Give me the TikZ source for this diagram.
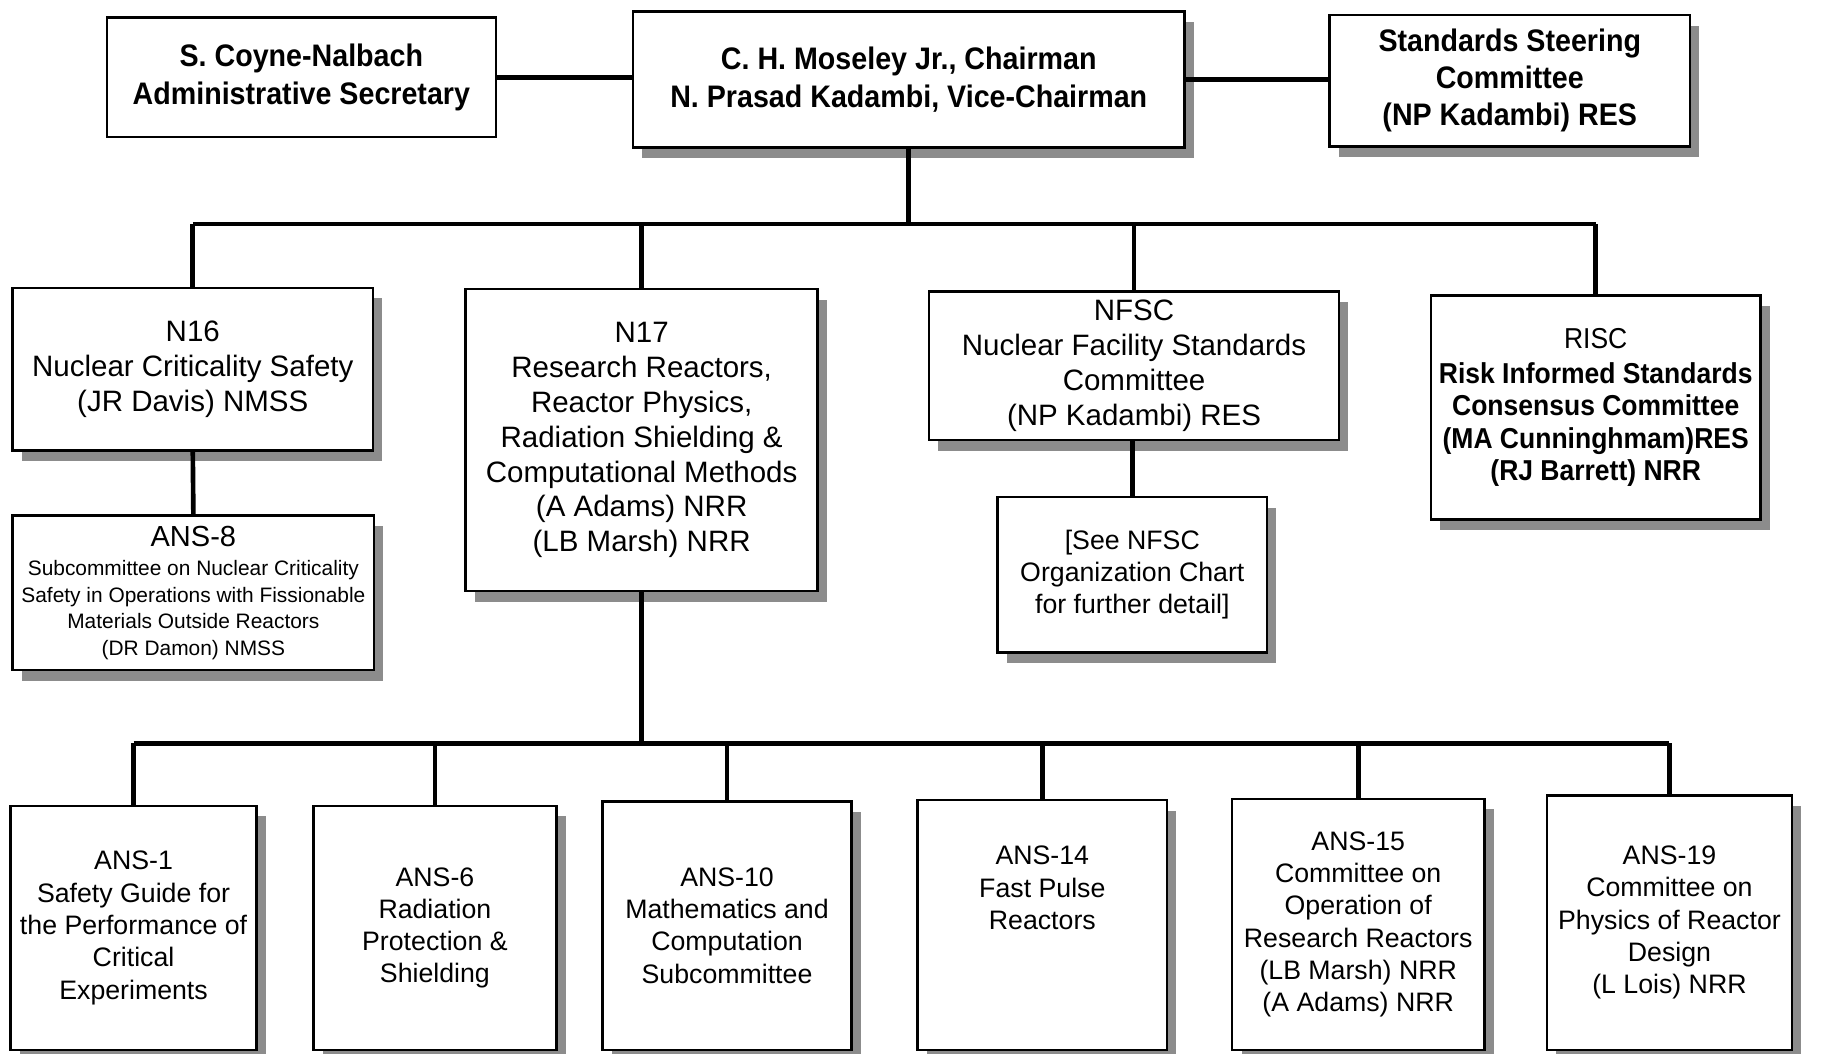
\documentclass[tikz,border=0pt]{standalone}
\usepackage{fontspec}
\setmainfont{Liberation Sans}
\newfontfamily\nsans[FakeStretch=0.92]{Liberation Sans}
\usetikzlibrary{shadows}
\begin{document}
\begin{tikzpicture}[x=0.5pt,y=-0.5pt,
  plainbox/.style={draw, line width=1.1pt, fill=white, inner sep=0pt, align=center},
  box/.style={plainbox, drop shadow={shadow xshift=4pt, shadow yshift=-4.5pt, fill=black!45, opacity=1}},
  reg/.style={font=\fontsize{12.7}{15}\selectfont},
  sml/.style={font=\fontsize{11.5}{13.9}\selectfont},
  topb/.style={font=\nsans\bfseries\fontsize{13.4}{16.5}\selectfont},
  conn/.style={line width=2pt},
  sz/.style 2 args={minimum width=#1, minimum height=#2}]
\useasboundingbox[fill=white] (0,0) rectangle (1568,907);

% top row
\node[plainbox, topb, sz={167.5pt}{51.5pt}] (sec) at (259.5,66.5) {S. Coyne-Nalbach\\Administrative Secretary};
\node[box, topb, sz={237.5pt}{58.5pt}] (chair) at (782.5,68.5) {C. H. Moseley Jr., Chairman\\N. Prasad Kadambi, Vice-Chairman};
\node[box, topb, font=\nsans\bfseries\fontsize{13.4}{16}\selectfont, sz={155pt}{56.5pt}] (steer) at (1300,69.5) {Standards Steering\\Committee\\(NP Kadambi) RES};

% second row
\node[box, reg, sz={155pt}{70pt}] (n16) at (166,318) {N16\\Nuclear Criticality Safety\\(JR Davis) NMSS};
\node[box, reg, sz={151.5pt}{130pt}] (n17) at (552.5,379) {N17\\Research Reactors,\\Reactor Physics,\\Radiation Shielding \&\\Computational Methods\\(A Adams) NRR\\(LB Marsh) NRR};
\node[box, reg, sz={176.5pt}{64pt}] (nfsc) at (976.5,315) {NFSC\\Nuclear Facility Standards\\Committee\\(NP Kadambi) RES};
\node[box, font=\nsans\fontsize{12.4}{14}\selectfont, sz={142pt}{96.5pt}] (risc) at (1374,351) {RISC\\[1pt]\textbf{Risk Informed Standards}\\\textbf{Consensus Committee}\\\textbf{(MA Cunninghmam)RES}\\\textbf{(RJ Barrett) NRR}};

\node[box, font=\fontsize{9}{11.5}\selectfont, sz={155.5pt}{66.5pt}] (ans8) at (166.5,510.5) {{\fontsize{12.5}{15}\selectfont ANS-8}\\[1pt]Subcommittee on Nuclear Criticality\\Safety in Operations with Fissionable\\Materials Outside Reactors\\(DR Damon) NMSS};
\node[box, font=\fontsize{11.5}{13.75}\selectfont, sz={116pt}{67pt}] (see) at (975,495) {[See NFSC\\Organization Chart\\for further detail]};

% bottom row
\node[box, sml, sz={106pt}{105pt}] (a1) at (115,799) {ANS-1\\Safety Guide for\\the Performance of\\Critical\\Experiments};
\node[box, sml, sz={104.5pt}{105pt}] (a6) at (374.5,799) {ANS-6\\Radiation\\Protection \&\\Shielding};
\node[box, sml, sz={107pt}{107pt}] (a10) at (626,797) {ANS-10\\Mathematics and\\Computation\\Subcommittee};
\node[box, sml, sz={107.5pt}{107.5pt}] (a14) at (897.5,796.5) {ANS-14\\Fast Pulse\\Reactors\\\strut\\\strut};
\node[box, sml, sz={108.5pt}{108pt}] (a15) at (1169.5,796) {ANS-15\\Committee on\\Operation of\\Research Reactors\\(LB Marsh) NRR\\(A Adams) NRR};
\node[box, sml, sz={105.5pt}{109.5pt}] (a19) at (1437.5,794.5) {ANS-19\\Committee on\\Physics of Reactor\\Design\\(L Lois) NRR};

% bus coordinates
\coordinate (bus1) at (782,193);
\coordinate (bus2) at (552,640);

% connectors
\draw[conn] (sec.east) -- (sec.east -| chair.west);
\draw[conn] (chair.east) -- (chair.east -| steer.west);
\draw[conn] (chair.south) -- (chair.south |- bus1);
\draw[conn] (n16.north |- bus1) -- (risc.north |- bus1);
\draw[conn] (n16.north |- bus1) -- (n16.north);
\draw[conn] (n17.north |- bus1) -- (n17.north);
\draw[conn] (nfsc.north |- bus1) -- (nfsc.north);
\draw[conn] (risc.north |- bus1) -- (risc.north);
\draw[conn] (n16.south) -- (ans8.north);
\draw[conn] (see.north |- nfsc.south) -- (see.north);
\draw[conn] (n17.south) -- (n17.south |- bus2);
\draw[conn] (a1.north |- bus2) -- (a19.north |- bus2);
\foreach \b in {a1,a6,a10,a14,a15,a19}
  \draw[conn] (\b.north |- bus2) -- (\b.north);
\end{tikzpicture}
\end{document}
